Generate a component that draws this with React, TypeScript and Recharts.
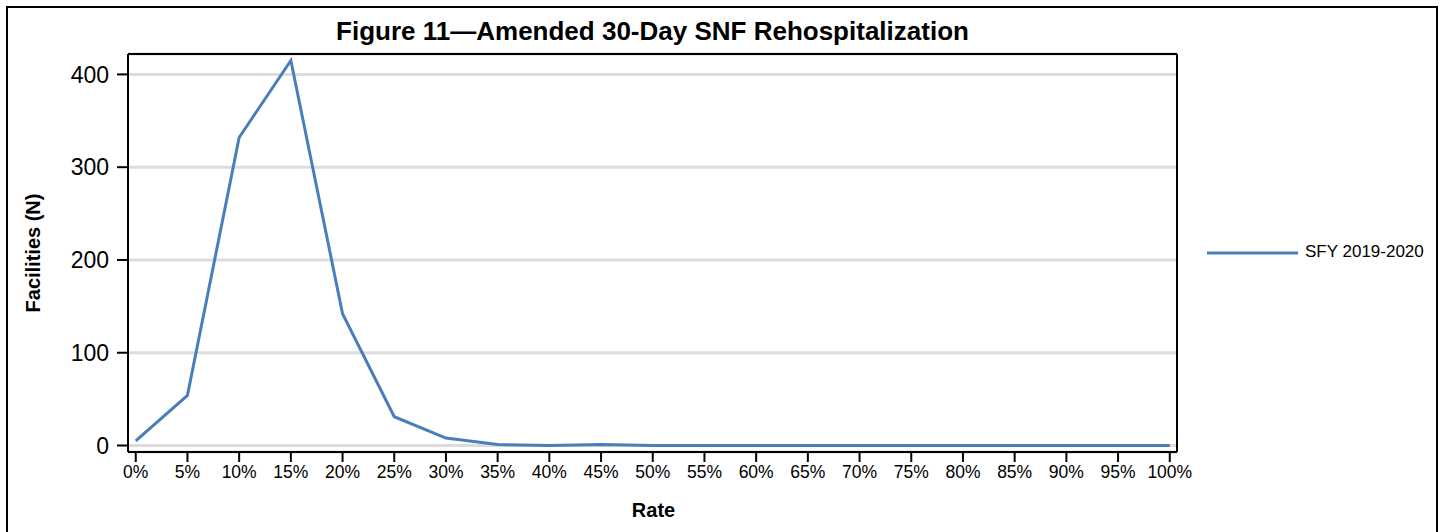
import React from 'react';
import {
  LineChart, Line, XAxis, YAxis, CartesianGrid, ReferenceLine,
} from 'recharts';

const RATES = [0, 5, 10, 15, 20, 25, 30, 35, 40, 45, 50, 55, 60, 65, 70, 75, 80, 85, 90, 95, 100];
const FACILITIES = [5, 54, 332, 415, 142, 31, 8, 1, 0, 1, 0, 0, 0, 0, 0, 0, 0, 0, 0, 0, 0];
const Y_TICKS = [0, 100, 200, 300, 400];
const X_DOMAIN = [-0.75, 100.7];
const Y_DOMAIN = [-7, 422];
const SERIES_NAME = 'SFY 2019-2020';
const TITLE = 'Figure 11\u2014Amended 30-Day SNF Rehospitalization';

const FONT = '"Liberation Sans", Arial, Helvetica, sans-serif';
const LINE_COLOR = '#4A7EBB';
const GRID_COLOR = '#DCDCDC';
const AXIS_LINE = { stroke: '#000', strokeWidth: 2 };

const data = RATES.map((r, i) => ({ rate: r, count: FACILITIES[i] }));

export default function App() {
  return (
    <div
      style={{
        position: 'fixed', left: 0, top: 0, width: 1445, height: 532,
        background: '#fff', fontFamily: FONT, overflow: 'hidden',
      }}
    >
      {/* outer frame */}
      <div
        style={{
          position: 'absolute', left: 6, top: 6, width: 1432, height: 560,
          border: '2px solid #000', boxSizing: 'border-box',
        }}
      />
      <div
        style={{
          position: 'absolute', left: 128, width: 1049, top: 16, textAlign: 'center',
          fontSize: 26, fontWeight: 700, color: '#000', whiteSpace: 'nowrap',
        }}
      >
        {TITLE}
      </div>

      <div style={{ position: 'absolute', left: 0, top: 0 }}>
        <LineChart
          width={1445}
          height={532}
          data={data}
          margin={{ top: 54, right: 268, bottom: 0, left: 0 }}
        >
          <CartesianGrid vertical={false} stroke={GRID_COLOR} strokeWidth={3} />
          <XAxis
            dataKey="rate"
            type="number"
            domain={X_DOMAIN}
            ticks={RATES}
            allowDataOverflow
            tickFormatter={(v: number) => `${v}%`}
            height={80}
            tickSize={10}
            tickMargin={4}
            axisLine={AXIS_LINE}
            tickLine={AXIS_LINE}
            tick={{ fontSize: 17.5, fill: '#000', fontFamily: FONT }}
            label={({ viewBox }: any) => (
              <text
                x={viewBox.x + viewBox.width / 2 + 1}
                y={viewBox.y + 65}
                textAnchor="middle"
                fontSize={20}
                fontWeight={700}
                fontFamily={FONT}
                fill="#000"
              >
                Rate
              </text>
            )}
          />
          <YAxis
            type="number"
            domain={Y_DOMAIN}
            ticks={Y_TICKS}
            allowDataOverflow
            width={128}
            tickSize={11}
            tickMargin={8}
            axisLine={AXIS_LINE}
            tickLine={AXIS_LINE}
            tick={{ fontSize: 23, fill: '#000', fontFamily: FONT }}
            label={({ viewBox }: any) => (
              <text
                x={33}
                y={viewBox.y + viewBox.height / 2}
                transform={`rotate(-90, 33, ${viewBox.y + viewBox.height / 2})`}
                textAnchor="middle"
                dominantBaseline="central"
                fontSize={20}
                fontWeight={700}
                fontFamily={FONT}
                fill="#000"
              >
                Facilities (N)
              </text>
            )}
          />
          {/* top and right edges of the plot frame */}
          <ReferenceLine y={Y_DOMAIN[1]} stroke="#000" strokeWidth={2} ifOverflow="visible" />
          <ReferenceLine x={X_DOMAIN[1]} stroke="#000" strokeWidth={2} ifOverflow="visible" />
          <Line
            type="linear"
            dataKey="count"
            name={SERIES_NAME}
            stroke={LINE_COLOR}
            strokeWidth={3}
            dot={false}
            activeDot={false}
            isAnimationActive={false}
          />
        </LineChart>
      </div>

      {/* legend */}
      <div
        style={{
          position: 'absolute', left: 1207, top: 242, display: 'flex', alignItems: 'center',
          fontSize: 17, color: '#000', whiteSpace: 'nowrap',
        }}
      >
        <svg width={91} height={20} style={{ display: 'block' }}>
          <line x1={0} y1={11} x2={91} y2={11} stroke={LINE_COLOR} strokeWidth={3} />
        </svg>
        <span style={{ marginLeft: 7 }}>{SERIES_NAME}</span>
      </div>
    </div>
  );
}
